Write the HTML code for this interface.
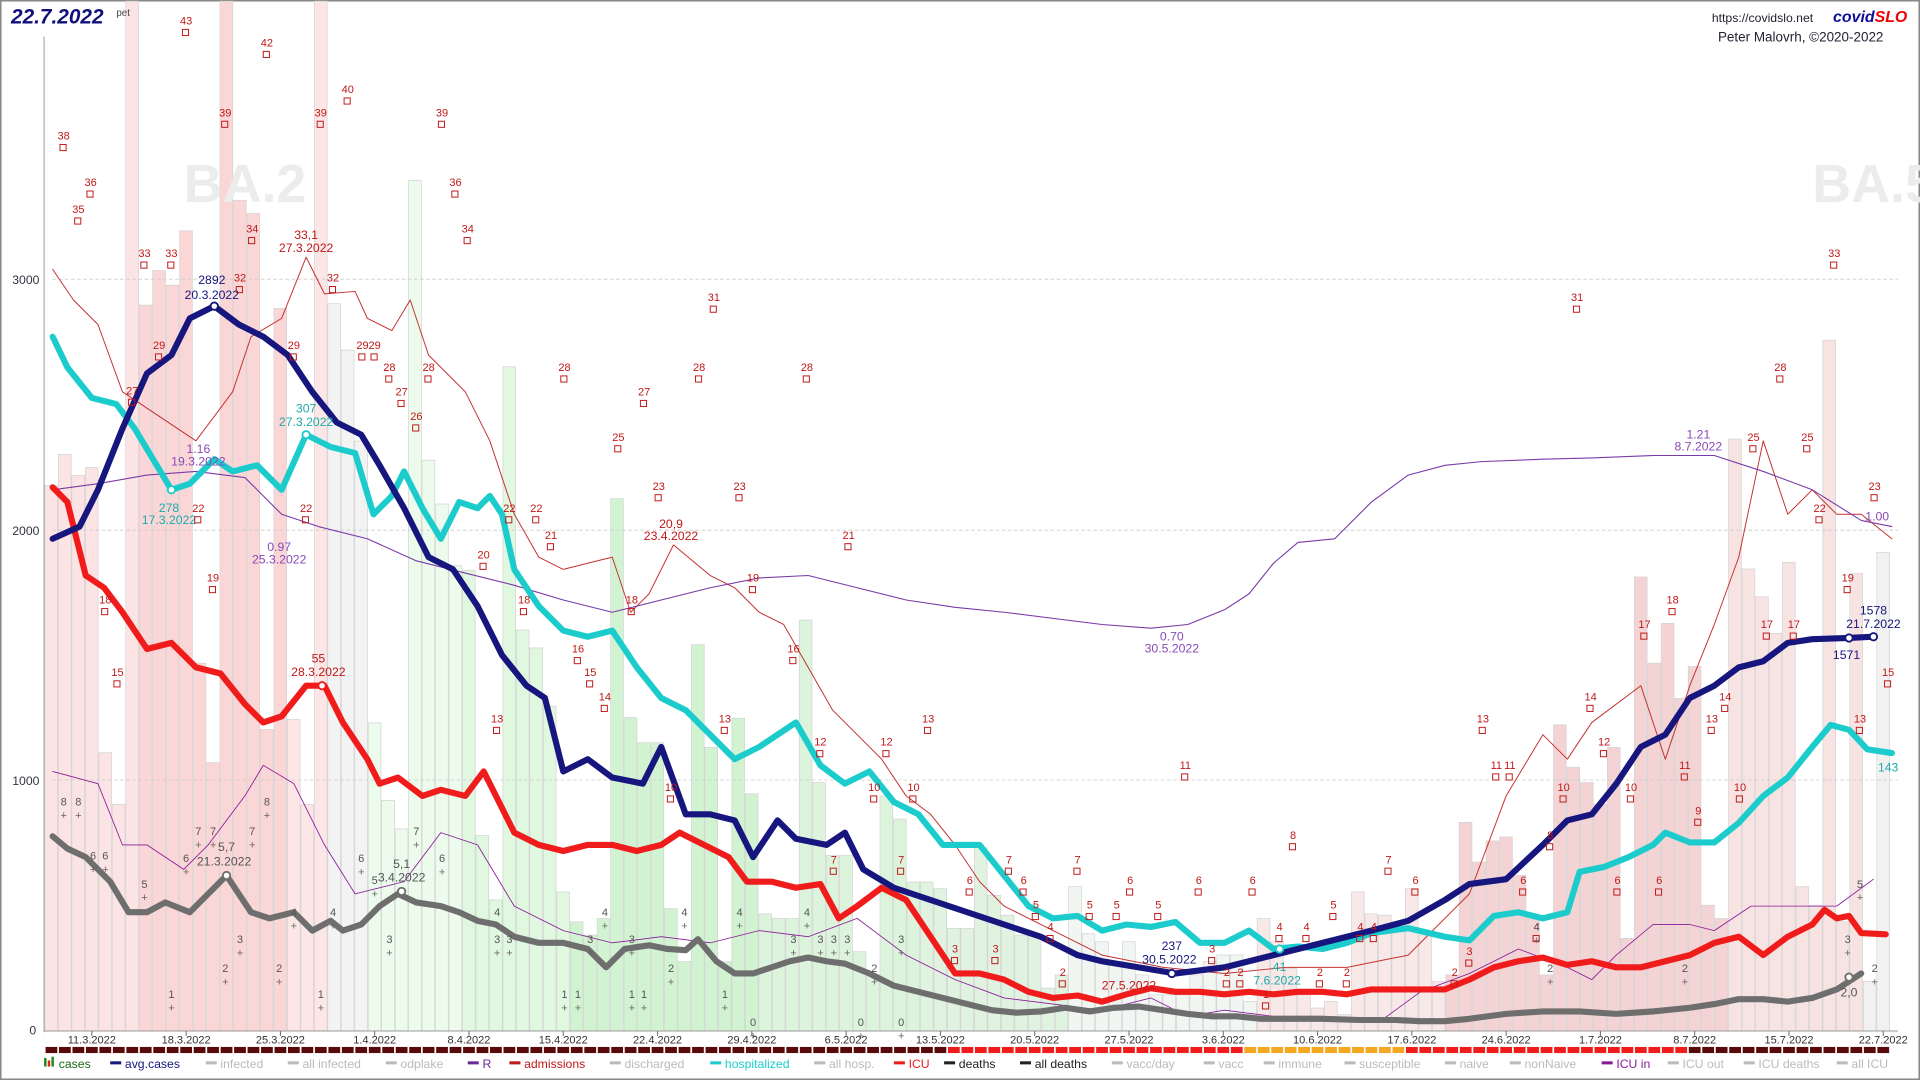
<!DOCTYPE html>
<html><head><meta charset="utf-8">
<style>
html,body{margin:0;padding:0;background:#fff;width:1920px;height:1080px;overflow:hidden}
svg{display:block}
text{font-family:"Liberation Sans",sans-serif}
</style></head>
<body>
<svg id="s" width="1920" height="1080" viewBox="0 0 1568 882" preserveAspectRatio="none" xmlns="http://www.w3.org/2000/svg">
<rect x="0.5" y="0.5" width="1567" height="881" fill="#fff" stroke="#888" stroke-width="1.5"/>
<g id="bars"></g>
<text x="150" y="165" font-size="44" font-weight="bold" fill="#ececec">BA.2</text>
<text x="1480" y="165" font-size="44" font-weight="bold" fill="#ececec">BA.5</text>
<line x1="43" y1="228" x2="1550" y2="228" stroke="#ccc" stroke-dasharray="3,2" stroke-width="0.7"/>
<line x1="43" y1="433" x2="1550" y2="433" stroke="#ccc" stroke-dasharray="3,2" stroke-width="0.7"/>
<line x1="43" y1="637" x2="1550" y2="637" stroke="#ccc" stroke-dasharray="3,2" stroke-width="0.7"/>
<line x1="36" y1="30" x2="36" y2="843" stroke="#999" stroke-width="0.8"/>
<line x1="36" y1="842" x2="1550" y2="842" stroke="#999" stroke-width="0.8"/>
<text x="10" y="232" font-size="10" fill="#334">3000</text>
<text x="10" y="437" font-size="10" fill="#334">2000</text>
<text x="10" y="641" font-size="10" fill="#334">1000</text>
<text x="24" y="845" font-size="10" fill="#334">0</text>
<g id="lines"></g>
<g id="labels"></g>
<text x="9" y="19" font-size="17" font-weight="bold" font-style="italic" fill="#10107a">22.7.2022</text>
<text x="95" y="13" font-size="8" fill="#444">pet</text>
<text x="1398" y="18" font-size="10" fill="#223">https://covidslo.net</text>
<text x="1497" y="18" font-size="13" font-weight="bold" font-style="italic" fill="#10109a">covid<tspan fill="#e00">SLO</tspan></text>
<text x="1403" y="34" font-size="11" fill="#223">Peter Malovrh, ©2020-2022</text>
<g id="axis"></g>
<g id="legend" font-size="10"></g>
</svg>
<script>
const NS="http://www.w3.org/2000/svg";
function el(p,t,a,txt){const e=document.createElementNS(NS,t);for(const k in a)e.setAttribute(k,a[k]);if(txt!==undefined)e.textContent=txt;document.getElementById(p).appendChild(e);return e;}
const X0=75,DX=11.0;
const avg=[[43,440],[65,430],[80,400],[100,350],[120,305],[140,290],[155,260],[175,250],[195,265],[215,275],[235,290],[255,320],[275,345],[295,355],[310,380],[330,415],[350,455],[370,465],[390,495],[410,535],[430,560],[445,570],[460,630],[470,625],[480,620],[500,635],[525,640],[540,610],[560,665],[580,665],[600,670],[615,700],[635,670],[650,685],[675,690],[690,680],[705,710],[730,725],[760,735],[790,745],[820,755],[850,765],[880,780],[900,785],[930,790],[960,795],[1000,790],[1040,780],[1080,770],[1120,760],[1150,752],[1180,735],[1200,722],[1230,718],[1260,690],[1280,670],[1300,665],[1320,640],[1340,610],[1360,600],[1380,570],[1400,560],[1420,545],[1440,540],[1460,525],[1480,522],[1510,521],[1530,520]];
const hosp=[[43,275],[55,300],[75,325],[95,330],[110,350],[125,375],[140,400],[155,395],[175,375],[190,385],[210,380],[230,400],[250,355],[270,365],[290,370],[305,420],[320,405],[330,385],[345,415],[360,440],[375,410],[390,415],[400,405],[410,420],[420,465],[440,495],[460,515],[480,520],[500,515],[520,545],[540,570],[560,580],[580,600],[600,620],[620,610],[650,590],[670,625],[690,640],[710,630],[730,655],[750,665],[770,690],[800,690],[820,715],[840,740],[860,750],[880,748],[900,760],[920,755],[940,757],[960,753],[980,770],[1000,770],[1020,760],[1040,775],[1060,773],[1080,775],[1100,770],[1120,762],[1150,758],[1180,765],[1200,768],[1220,748],[1240,745],[1260,750],[1280,745],[1290,712],[1310,708],[1330,700],[1350,690],[1360,680],[1380,688],[1400,688],[1420,672],[1440,650],[1460,635],[1480,610],[1495,592],[1510,596],[1525,612],[1545,615]];
const icu=[[43,398],[55,410],[70,470],[85,480],[100,500],[120,530],[140,525],[160,545],[180,550],[200,575],[215,590],[230,585],[250,560],[265,560],[280,590],[300,620],[310,640],[325,635],[345,650],[360,645],[380,650],[395,630],[410,660],[420,680],[440,690],[460,695],[480,690],[500,690],[520,695],[540,690],[555,680],[575,690],[595,700],[610,720],[630,720],[650,725],[670,722],[685,750],[700,740],[720,725],[740,735],[760,765],[780,795],[800,795],[820,800],[840,810],[860,815],[880,813],[900,818],[920,812],[940,807],[960,810],[980,810],[1000,812],[1020,810],[1040,812],[1060,810],[1080,810],[1100,812],[1120,808],[1140,808],[1160,808],[1180,808],[1200,800],[1220,790],[1240,785],[1260,782],[1280,788],[1300,785],[1320,790],[1340,790],[1360,785],[1380,780],[1400,770],[1420,765],[1440,780],[1460,765],[1480,755],[1490,743],[1500,750],[1510,748],[1520,762],[1540,763]];
const deaths=[[43,683],[55,693],[70,700],[90,720],[105,745],[120,745],[135,737],[155,745],[170,730],[185,715],[205,745],[220,750],[240,745],[255,760],[270,752],[280,760],[295,755],[310,740],[325,730],[340,737],[360,740],[375,745],[390,752],[405,755],[420,765],[440,770],[460,770],[480,775],[495,790],[510,775],[530,772],[545,775],[560,776],[570,767],[585,785],[600,795],[615,795],[630,790],[645,785],[660,782],[675,785],[690,787],[710,795],[730,805],[750,810],[770,815],[790,820],[810,825],[830,827],[850,826],[870,823],[890,826],[910,823],[930,822],[950,825],[970,828],[990,830],[1010,830],[1030,832],[1050,832],[1080,832],[1110,833],[1140,833],[1160,834],[1180,834],[1200,832],[1230,828],[1260,826],[1290,826],[1320,828],[1350,826],[1380,823],[1400,820],[1420,816],[1440,816],[1460,818],[1480,815],[1500,808],[1520,795]];
const R=[[43,400],[80,395],[120,388],[160,385],[200,390],[230,420],[260,430],[300,440],[340,458],[380,468],[420,478],[460,490],[500,500],[540,490],[580,480],[620,472],[660,470],[700,480],[740,490],[780,496],[820,500],[860,505],[900,510],[940,513],[970,510],[1000,498],[1020,485],[1040,460],[1060,443],[1090,440],[1120,410],[1150,388],[1180,380],[1210,377],[1260,375],[1300,374],[1350,372],[1400,372],[1440,385],[1480,400],[1520,425],[1545,430]];
const adm=[[43,220],[60,245],[80,265],[100,320],[130,340],[160,360],[190,320],[205,275],[230,260],[250,210],[265,240],[290,238],[300,260],[320,270],[335,245],[350,290],[380,320],[400,360],[420,420],[440,455],[460,465],[480,460],[500,455],[515,500],[530,485],[550,445],[580,470],[600,480],[620,500],[640,510],[660,545],[680,580],[700,600],[720,620],[740,650],[760,665],[780,690],[800,720],[820,740],[860,760],[900,780],[950,790],[1000,795],[1050,790],[1100,790],[1150,780],[1200,730],[1230,650],[1260,600],[1280,620],[1300,590],[1340,560],[1360,620],[1380,560],[1400,510],[1420,455],[1440,360],[1460,420],[1480,400],[1500,420],[1520,420],[1545,440]];
const icuin=[[43,630],[80,640],[100,690],[120,690],[150,710],[170,690],[200,650],[215,625],[240,640],[265,690],[290,730],[330,720],[360,680],[390,690],[420,740],[460,760],[500,770],[540,765],[580,770],[620,760],[660,765],[700,750],[740,780],[780,800],[820,815],[860,820],[900,825],[940,815],[970,830],[1000,825],[1040,830],[1080,830],[1130,832],[1160,810],[1200,795],[1240,775],[1280,790],[1300,800],[1320,780],[1350,755],[1380,755],[1400,760],[1430,740],[1470,740],[1500,740],[1530,718]];
// bar tops (zoom units) from d=-3
const tops=[732,685,717,705,1135,1213,0,460,408,430,348,1000,1150,0,302,322,1100,465,1085,1213,0,458,528,665,1090,1207,1250,272,694,760,853,860,1260,1357,553,950,977,1065,1345,1390,1410,1385,752,1082,1120,1120,1370,1450,972,1127,1450,1083,1197,1378,1385,1385,935,1180,1290,1290,1435,1470,1200,1235,1330,1330,1340,1400,1400,
1278,1350,1380,1410,1410,1490,1470,1337,1408,1420,1450,1420,1470,1500,1500,1500,1470,1450,1440,1440,1510,1385,1420,1460,1500,1520,1510,1530,1345,1378,1380,1390,1340,1410,1480,1470,1240,1300,1268,1262,1320,1380,1470,1093,1157,1180,1213,1127,1415,870,1000,940,1053,1005,1365,1385,662,858,900,955,848,1337,1365,513,1390,865,1480,833];
function col(d){
  if(d<4)return '#fde4e4';
  if(d<15)return '#fbd6d6';
  if(d<18)return '#fce6e6';
  if(d<21)return '#f3f3f3';
  if(d<28)return '#ecfbec';
  if(d<36)return '#e0f8e0';
  if(d<50)return '#d2f3d2';
  if(d<62)return '#dcf3dc';
  if(d<73)return '#e0f2e0';
  if(d<87)return '#f2f6f2';
  if(d<101)return '#f8e8e8';
  if(d<122)return '#f3d3d3';
  if(d<132)return '#f8e3e3';
  return '#f1f1f1';
}
for(let i=0;i<tops.length;i++){
  const d=i-3; const x=X0+d*DX; let top=tops[i]*0.5416; if(top<1)top=1;
  el('bars','rect',{x:x-5.3,y:top,width:10.4,height:842-top,fill:col(d),stroke:'#d4d4d4','stroke-width':0.6});
}
function pl(arr,col,w){el('lines','polyline',{points:arr.map(p=>p.join(',')).join(' '),fill:'none',stroke:col,'stroke-width':w,'stroke-linejoin':'round','stroke-linecap':'round'});}
pl(adm,'#c43030',0.8);pl(R,'#7a3aa8',0.9);pl(icuin,'#8a1a9a',0.7);
pl(deaths,'#6e6e6e',5);pl(icu,'#f01c1c',5);pl(hosp,'#1ccccc',5);pl(avg,'#16167e',5);
[[175,250,'#16167e'],[140,400,'#1ccccc'],[250,355,'#1ccccc'],[263,560,'#f01c1c'],[185,715,'#6e6e6e'],[328,728,'#6e6e6e'],[957,795,'#16167e'],[1045,775,'#1ccccc'],[1510,521,'#16167e'],[1530,520,'#16167e'],[1510,798,'#6e6e6e']].forEach(m=>el('lines','circle',{cx:m[0],cy:m[1],r:3,fill:'#fff',stroke:m[2],'stroke-width':1.5}));
function L(x,y,t,c,fs){el('labels','text',{x:x,y:y,'font-size':fs||10,fill:c,'text-anchor':'middle'},t);}
[[173,232,'2892'],[173,244,'20.3.2022'],[957,776,'237'],[955,787,'30.5.2022'],[1530,502,'1578'],[1530,513,'21.7.2022'],[1508,538,'1571']].forEach(a=>L(a[0],a[1],a[2],'#16167e'));
[[250,337,'307'],[250,348,'27.3.2022'],[138,418,'278'],[138,428,'17.3.2022'],[1045,793,'41'],[1043,804,'7.6.2022'],[1542,630,'143']].forEach(a=>L(a[0],a[1],a[2],'#1caaaa'));
[[260,541,'55'],[260,552,'28.3.2022'],[922,808,'27.5.2022'],[250,195,'33,1'],[250,206,'27.3.2022'],[548,431,'20,9'],[548,441,'23.4.2022']].forEach(a=>L(a[0],a[1],a[2],'#c01818'));
[[162,370,'1.16'],[162,380,'19.3.2022'],[228,450,'0.97'],[228,460,'25.3.2022'],[957,523,'0.70'],[957,533,'30.5.2022'],[1387,358,'1.21'],[1387,368,'8.7.2022'],[1533,425,'1.00']].forEach(a=>L(a[0],a[1],a[2],'#8a4ab8'));
[[185,695,'5,7'],[183,707,'21.3.2022'],[328,709,'5,1'],[328,720,'3.4.2022'],[1510,814,'2,0']].forEach(a=>L(a[0],a[1],a[2],'#555'));
const red=[[52,114,38],[64,174,35],[74,152,36],[152,20,43],[118,210,33],[140,210,33],[184,95,39],[218,38,42],[262,95,39],[284,76,40],[361,95,39],[372,152,36],[382,190,34],[206,190,34],[196,230,32],[272,230,32],[583,246,31],[1288,246,31],[1498,210,33],[108,322,27],[130,285,29],[240,285,29],[296,285,29],[306,285,29],[318,303,28],[350,303,28],[461,303,28],[571,303,28],[659,303,28],[1454,303,28],[328,323,27],[526,323,27],[340,343,26],[505,360,25],[1432,360,25],[1476,360,25],[538,400,23],[604,400,23],[1531,400,23],[162,418,22],[250,418,22],[416,418,22],[438,418,22],[1486,418,22],[450,440,21],[693,440,21],[395,456,20],[174,475,19],[615,475,19],[1509,475,19],[86,493,18],[428,493,18],[516,493,18],[1366,493,18],[1343,513,17],[1443,513,17],[1465,513,17],[472,533,16],[648,533,16],[96,552,15],[482,552,15],[1542,552,15],[494,572,14],[1299,572,14],[1409,572,14],[406,590,13],[592,590,13],[758,590,13],[1211,590,13],[1398,590,13],[1519,590,13],[670,609,12],[724,609,12],[1310,609,12],[548,646,10],[714,646,10],[746,646,10],[1277,646,10],[1332,646,10],[1421,646,10],[968,628,11],[1222,628,11],[1233,628,11],[1376,628,11],[1387,665,9],[1056,685,8],[1266,685,8],[681,705,7],[736,705,7],[824,705,7],[880,705,7],[1134,705,7],[792,722,6],[836,722,6],[923,722,6],[979,722,6],[1023,722,6],[1156,722,6],[1244,722,6],[1321,722,6],[1355,722,6],[846,742,5],[890,742,5],[912,742,5],[946,742,5],[1089,742,5],[858,760,4],[1045,760,4],[1067,760,4],[1111,760,4],[1122,760,4],[1255,760,4],[780,778,3],[813,778,3],[990,778,3],[1200,780,3],[868,797,2],[1002,797,2],[1013,797,2],[1078,797,2],[1100,797,2],[1188,797,2],[1034,815,1]];
red.forEach(r=>{L(r[0],r[1],String(r[2]),'#c01818',9);el('labels','rect',{x:r[0]-3,y:r[1]+4,width:5,height:5,fill:'none',stroke:'#c01818','stroke-width':0.8});});
const gr=[[52,658,8],[64,658,8],[76,702,6],[86,702,6],[118,725,5],[162,682,7],[174,682,7],[152,704,6],[206,682,7],[218,658,8],[295,704,6],[306,722,5],[340,682,7],[361,704,6],[196,770,3],[184,794,2],[228,794,2],[140,815,1],[262,815,1],[240,748,4],[272,748,4],[406,748,4],[494,748,4],[559,748,4],[604,748,4],[659,748,4],[1255,760,4],[318,770,3],[406,770,3],[416,770,3],[482,770,3],[516,770,3],[648,770,3],[670,770,3],[681,770,3],[692,770,3],[736,770,3],[1509,770,3],[548,794,2],[714,794,2],[1266,794,2],[1376,794,2],[1531,794,2],[461,815,1],[472,815,1],[516,815,1],[526,815,1],[592,815,1],[615,838,0],[703,838,0],[736,838,0],[1519,725,5]];
gr.forEach(r=>{L(r[0],r[1],String(r[2]),'#555',9);L(r[0],r[1]+11,'+','#666',9);});
const dates=['11.3.2022','18.3.2022','25.3.2022','1.4.2022','8.4.2022','15.4.2022','22.4.2022','29.4.2022','6.5.2022','13.5.2022','20.5.2022','27.5.2022','3.6.2022','10.6.2022','17.6.2022','24.6.2022','1.7.2022','8.7.2022','15.7.2022','22.7.2022'];
dates.forEach((t,i)=>{const x=X0+i*7*DX;el('axis','line',{x1:x,y1:842,x2:x,y2:846,stroke:'#666','stroke-width':0.8});el('axis','text',{x:x,y:852,'font-size':9,fill:'#333','text-anchor':'middle'},t);});
for(let d=-3;d<=133;d++){const x=X0+d*DX;let c='#5a0a0a';if(d>=64&&d<86)c='#f01c1c';if(d>=86&&d<98)c='#f5a623';if(d>=98&&d<119)c='#f01c1c';el('axis','rect',{x:x-4.8,y:855,width:9.6,height:5,fill:c});}
const leg=[[36,'cases','#1a6a1a'],[90,'avg.cases','#16167e'],[168,'infected','#bbb'],[235,'all infected','#bbb'],[315,'odplake','#bbb'],[382,'R','#6a2a9a'],[416,'admissions','#c01818'],[498,'discharged','#bbb'],[580,'hospitalized','#1ccccc'],[665,'all hosp.','#bbb'],[730,'ICU','#f01c1c'],[771,'deaths','#222'],[833,'all deaths','#222'],[908,'vacc/day','#bbb'],[983,'vacc','#bbb'],[1032,'immune','#bbb'],[1098,'susceptible','#bbb'],[1180,'naive','#bbb'],[1233,'nonNaive','#bbb'],[1308,'ICU in','#8a1a9a'],[1362,'ICU out','#bbb'],[1424,'ICU deaths','#bbb'],[1500,'all ICU','#bbb']];
leg.forEach(l=>{if(l[1]=='cases'){el('legend','rect',{x:l[0],y:864,width:2,height:7,fill:'#1a8a1a'});el('legend','rect',{x:l[0]+3,y:866,width:2,height:5,fill:'#e02020'});el('legend','rect',{x:l[0]+6,y:863,width:2,height:8,fill:'#1a8a1a'});}else el('legend','line',{x1:l[0],y1:868,x2:l[0]+9,y2:868,stroke:l[2],'stroke-width':2.5});el('legend','text',{x:l[0]+12,y:872,fill:l[2]},l[1]);});
</script>
</body></html>
